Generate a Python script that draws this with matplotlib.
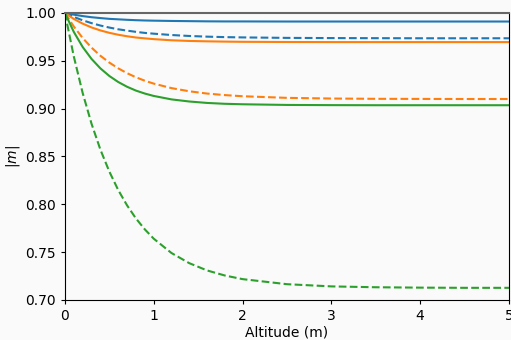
import matplotlib
matplotlib.use("Agg")
from matplotlib import pyplot as plt

# altitude samples (m)
alt = [0.0, 0.1, 0.2, 0.3, 0.4, 0.5, 0.6, 0.7, 0.8, 0.9, 1.0,
       1.2, 1.4, 1.6, 1.8, 2.0, 2.5, 3.0, 3.5, 4.0, 4.5, 5.0]

# |m|
blue_solid = [1.0, 0.9982, 0.9967, 0.9955, 0.9946, 0.9938, 0.9933, 0.9928, 0.9924, 0.9921, 0.9919,
              0.9916, 0.9914, 0.9912, 0.9911, 0.9911, 0.9910, 0.9910, 0.9910, 0.9910, 0.9910, 0.9910]
blue_dashed = [1.0, 0.9958, 0.9923, 0.9893, 0.9868, 0.9847, 0.9829, 0.9815, 0.9802, 0.9791, 0.9783,
               0.9769, 0.9759, 0.9752, 0.9747, 0.9744, 0.9739, 0.9737, 0.9736, 0.9735, 0.9735, 0.9735]
orange_solid = [1.0, 0.9937, 0.9888, 0.9848, 0.9817, 0.9792, 0.9772, 0.9756, 0.9743, 0.9734, 0.9726,
                0.9714, 0.9707, 0.9703, 0.9700, 0.9698, 0.9696, 0.9695, 0.9695, 0.9695, 0.9695, 0.9695]
orange_dashed = [1.0, 0.9858, 0.9738, 0.9637, 0.9552, 0.9481, 0.9421, 0.9370, 0.9327, 0.9291, 0.9261,
                 0.9214, 0.9181, 0.9157, 0.9141, 0.9129, 0.9112, 0.9105, 0.9102, 0.9101, 0.9100, 0.9100]
green_solid = [1.0, 0.9802, 0.9644, 0.9519, 0.9420, 0.9341, 0.9278, 0.9228, 0.9188, 0.9157, 0.9132,
               0.9096, 0.9074, 0.9059, 0.9050, 0.9045, 0.9038, 0.9036, 0.9035, 0.9035, 0.9035, 0.9035]
green_dashed = [1.0, 0.9546, 0.9163, 0.8841, 0.8570, 0.8342, 0.8149, 0.7988, 0.7851, 0.7737, 0.7640,
                0.7490, 0.7384, 0.7308, 0.7255, 0.7217, 0.7164, 0.7141, 0.7132, 0.7128, 0.7126, 0.7126]

fig = plt.figure(figsize=(5.11, 3.40), dpi=100, facecolor='#fafafa')
ax = fig.add_axes([0.127, 0.118, 0.869, 0.844])
ax.set_facecolor('#fafafa')

ax.plot(alt, blue_solid, color='C0', lw=1.5)
ax.plot(alt, blue_dashed, color='C0', lw=1.5, ls='--')
ax.plot(alt, orange_solid, color='C1', lw=1.5)
ax.plot(alt, orange_dashed, color='C1', lw=1.5, ls='--')
ax.plot(alt, green_solid, color='C2', lw=1.5)
ax.plot(alt, green_dashed, color='C2', lw=1.5, ls='--')

ax.set_xlim(0, 5)
ax.set_ylim(0.70, 1.00)
ax.tick_params(length=3)
ax.set_xlabel('Altitude (m)', labelpad=2)
ax.set_ylabel('$|m|$', labelpad=2)

# top border is grey in the original
ax.spines['top'].set_color('#666666')
ax.spines['top'].set_linewidth(1.5)

fig.savefig('out.png', dpi=100, facecolor=fig.get_facecolor())
